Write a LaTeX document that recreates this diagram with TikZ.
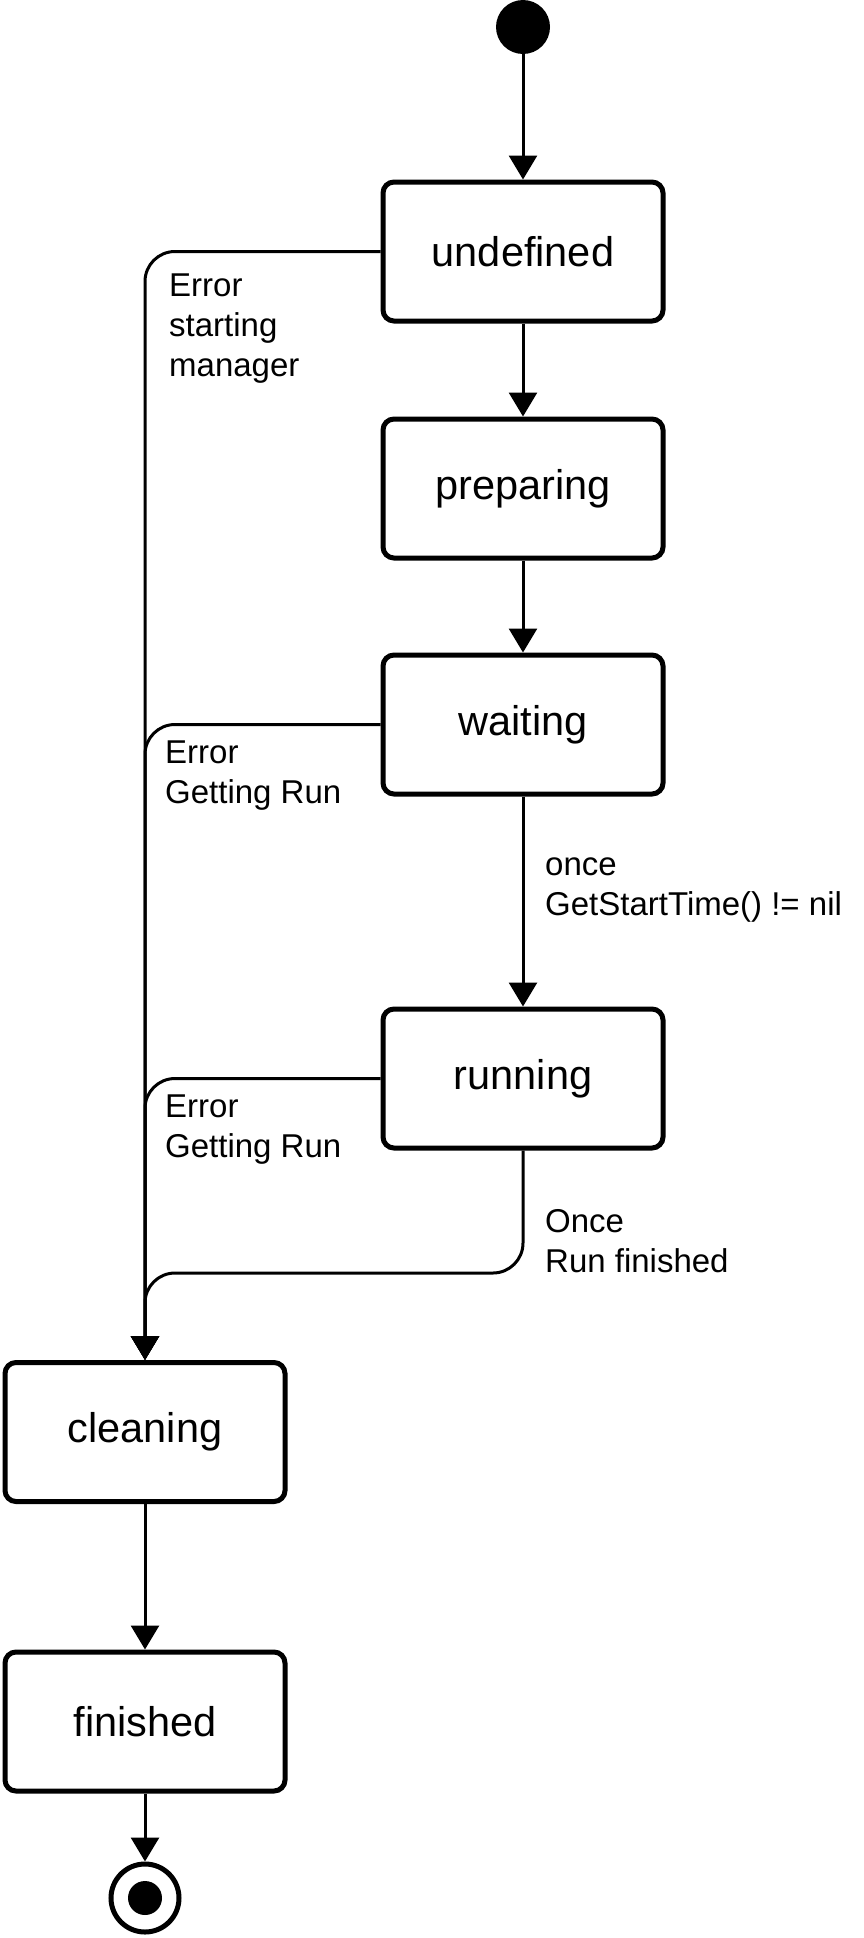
\documentclass[tikz,border=0pt]{standalone}
\usepackage{fontspec}
\setmainfont{Liberation Sans}
\usetikzlibrary{arrows.meta}
\begin{document}
\begin{tikzpicture}[x=1pt,y=-1pt,
  state/.style={draw,line width=5pt,rounded corners=11pt,minimum width=280pt,minimum height=139pt,
    font=\fontsize{41.5}{48}\selectfont,inner sep=0pt},
  conn/.style={line width=3pt,-{Triangle[length=24pt,width=28pt]}},
  lbl/.style={anchor=north west,inner sep=0pt,align=left,font=\fontsize{33}{40}\selectfont}]
\useasboundingbox (0,0) rectangle (863,1938);
% states
\node[circle,fill=black,minimum size=54pt,inner sep=0pt] (init) at (523,27) {};
\node[state] (undef) at (523,251.5) {undefined};
\node[state] (prep) at (523,488.5) {preparing};
\node[state] (wait) at (523,724.5) {waiting};
\node[state] (run) at (523,1078.5) {running};
\node[state] (clean) at (145,1432) {cleaning};
\node[state] (fin) at (145,1721.5) {finished};
\node[circle,draw,line width=5pt,minimum size=68pt,inner sep=0pt] (endst) at (145,1898) {};
\node[circle,fill=black,minimum size=34pt,inner sep=0pt] (enddot) at (145,1898) {};
\coordinate (jn) at (145,1273);
% connectors
\draw[conn] (init) -- (undef);
\draw[conn] (undef) -- (prep);
\draw[conn] (prep) -- (wait);
\draw[conn] (wait) -- (run);
\draw[conn,rounded corners=30pt] (undef.west) -| (clean.north);
\draw[conn,rounded corners=30pt] (wait.west) -| (clean.north);
\draw[conn,rounded corners=30pt] (run.west) -| (clean.north);
\draw[conn,rounded corners=30pt] (run.south) |- (jn) -- (clean.north);
\draw[conn] (clean) -- (fin);
\draw[conn] (fin) -- (endst);
% labels
\node[lbl] (l1) at (169,274) {Error\\starting\\manager};
\node[lbl] (l2) at (165,741) {Error\\Getting Run};
\node[lbl] (l3) at (165,1095) {Error\\Getting Run};
\node[lbl] (l4) at (545,858) {once\\GetStartTime() != nil};
\node[lbl] (l5) at (545,1209) {Once\\Run finished};
\end{tikzpicture}
\end{document}
